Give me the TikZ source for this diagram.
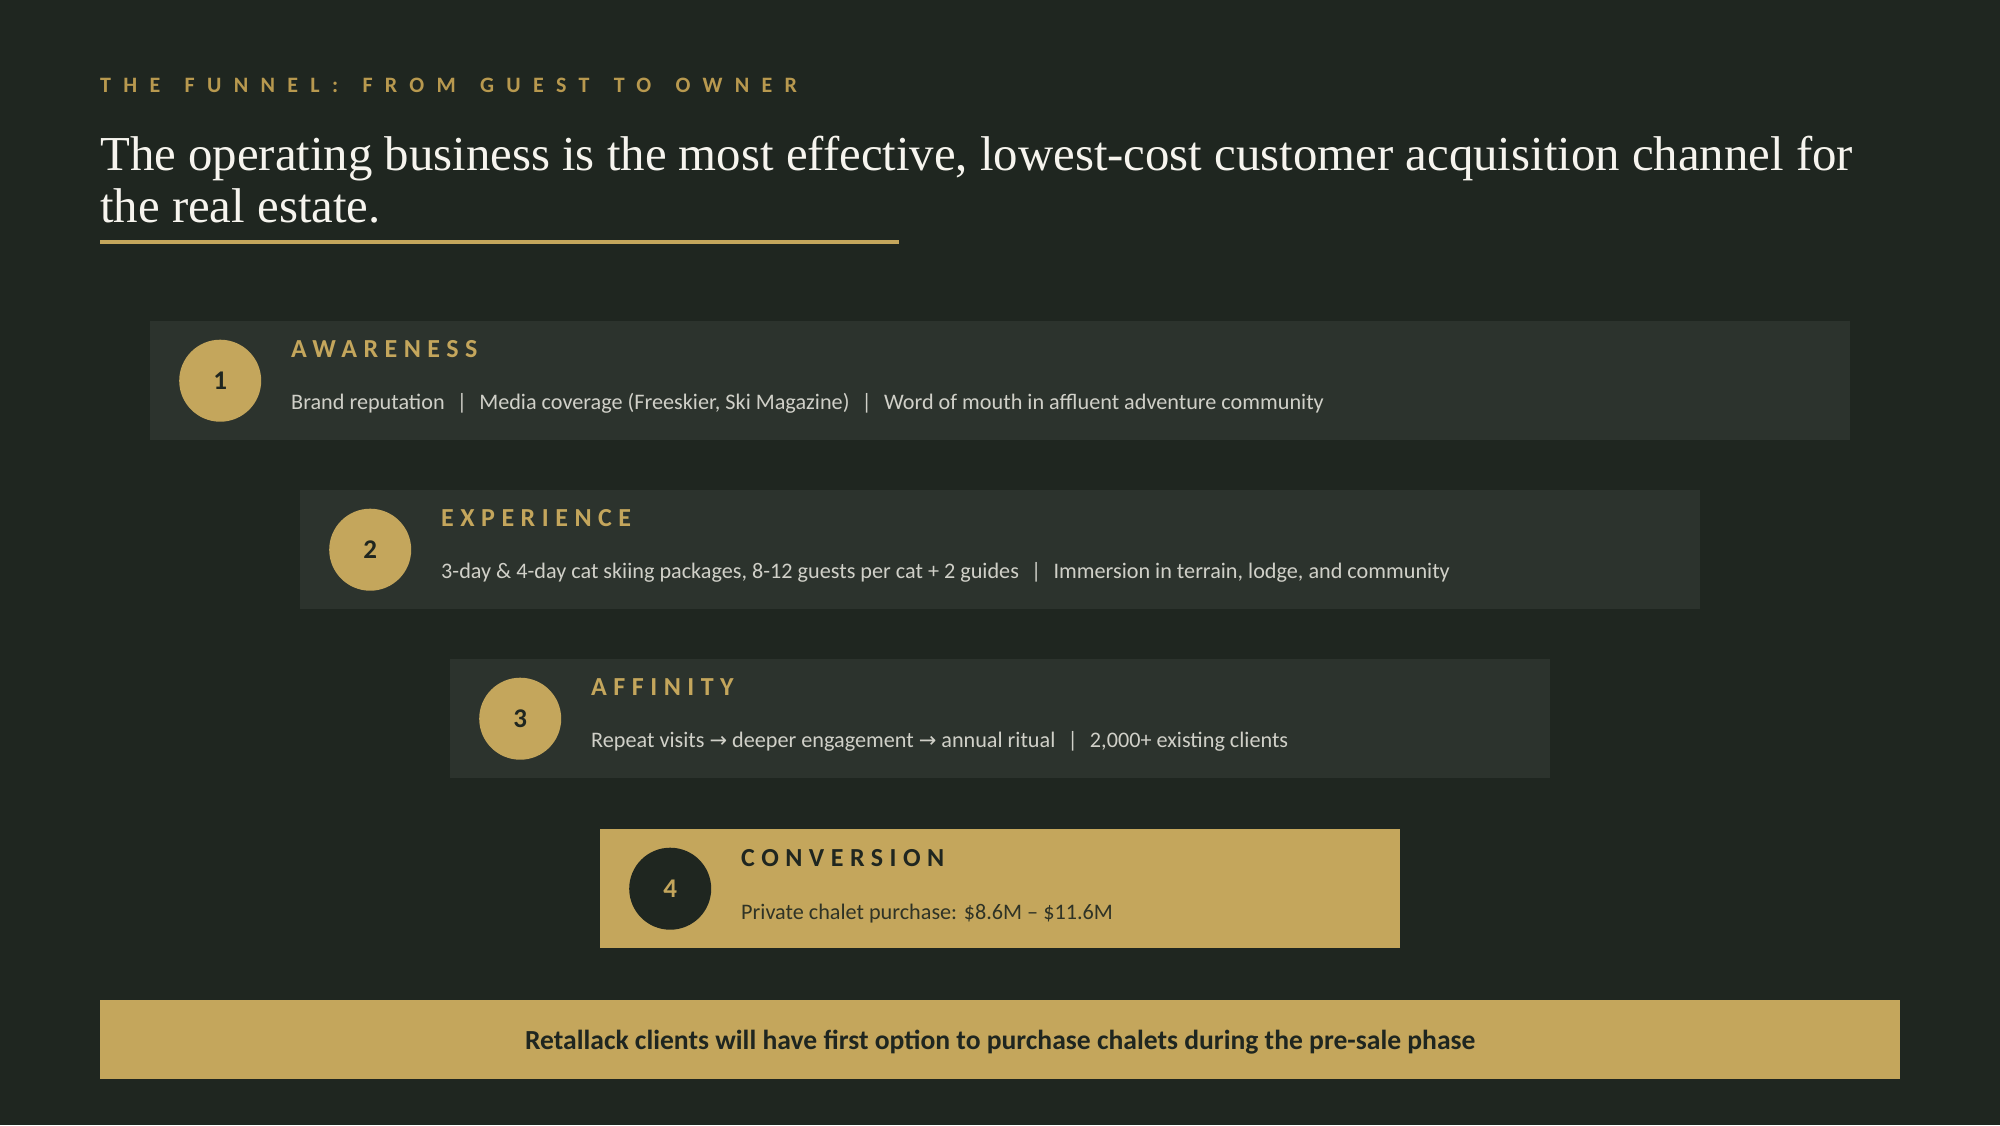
\documentclass[tikz,border=0pt]{standalone}
\usepackage{fontspec}
\setmainfont{Carlito}
\newfontfamily\titlefont{Liberation Serif}
\newfontfamily\arrowfont{DejaVu Sans}
\usetikzlibrary{positioning}

\definecolor{bgdark}{HTML}{1F2620}
\definecolor{boxgrey}{HTML}{2C332D}
\definecolor{gold}{HTML}{C4A65C}
\definecolor{kickergold}{HTML}{B8994F}
\definecolor{bodygrey}{HTML}{D0D0C8}
\definecolor{titlewhite}{HTML}{F6F4EE}

\newcommand{\barsep}{\hspace{0.55em}|\hspace{0.55em}}
\newcommand{\rarr}{{\arrowfont\fontsize{21}{21}\selectfont →}}
\newcommand{\gap}{\hspace{0.32em} }

\begin{document}
\begin{tikzpicture}
    [x=1pt, y=-1pt, every node/.style={inner sep=0pt}]
    \tikzset{stagebox/.style = {fill=boxgrey, anchor=north west, minimum height=119pt},
             badge/.style = {circle, fill=gold, text=bgdark, minimum size=82pt,
                             font=\fontsize{27}{27}\selectfont\bfseries},
             stagehead/.style = {anchor=base west, text=gold,
                             font=\fontsize{26}{26}\selectfont\bfseries\addfontfeatures{LetterSpace=25}},
             stagetext/.style = {anchor=base west, text=bodygrey,
                             font=\fontsize{22.2}{27}\selectfont}}
    \fill[bgdark] (0,0) rectangle (2000,1125);
    \useasboundingbox (0,0) rectangle (2000,1125);

    % header
    \node[anchor=base west, text=kickergold,
          font=\fontsize{22}{22}\selectfont\bfseries\addfontfeatures{LetterSpace=56}]
          (kicker) at (100,92) {THE\gap FUNNEL:\gap FROM\gap GUEST\gap TO\gap OWNER};
    \node[anchor=base west, text=titlewhite, font=\titlefont\fontsize{48.8}{52}\selectfont]
          (title1) at (100,170) {The operating business is the most effective, lowest-cost customer acquisition channel for};
    \node[anchor=base west, text=titlewhite, font=\titlefont\fontsize{48.8}{52}\selectfont]
          (title2) at (100,222) {the real estate.};
    \coordinate (rulestart) at (100,242);
    \coordinate (ruleend) at (899,242);
    \draw[gold, line width=4pt] (rulestart) -- (ruleend);

    % funnel stages
    \foreach \i/\name/\body [evaluate=\i as \lft using 150*\i,
                             evaluate=\i as \ytop using 152+169*\i,
                             evaluate=\i as \boxw using 2000-300*\i] in
        {1/AWARENESS/{Brand reputation\barsep Media coverage (Freeskier, Ski Magazine)\barsep Word of mouth in affluent adventure community},
         2/EXPERIENCE/{3-day \& 4-day cat skiing packages, 8-12 guests per cat + 2 guides\barsep Immersion in terrain, lodge, and community},
         3/AFFINITY/{Repeat visits \rarr{} deeper engagement \rarr{} annual ritual\barsep 2,000+ existing clients}}
    {
        \node[stagebox, minimum width=\boxw pt] (box\i) at (\lft,\ytop) {};
        \node[badge, right=29pt of box\i.west] (num\i) {\i};
        \node[stagehead] (head\i) at ([xshift=141pt, yshift=-36pt]box\i.north west) {\name};
        \node[stagetext] (text\i) at ([xshift=141pt, yshift=-88pt]box\i.north west) {\body};
    }

    \node[stagebox, fill=gold, minimum width=800pt] (box4) at (600,829) {};
    \node[badge, fill=bgdark, text=gold, right=29pt of box4.west] (num4) {4};
    \node[stagehead, text=bgdark] (head4) at ([xshift=141pt, yshift=-37pt]box4.north west) {CONVERSION};
    \node[stagetext, text=bgdark!90!gold] (text4) at ([xshift=141pt, yshift=-90pt]box4.north west)
          {Private chalet purchase: \$8.6M -- \$11.6M};

    % closing note
    \node[fill=gold, anchor=north west, minimum width=1800pt, minimum height=79pt] (notebar) at (100,1000) {};
    \node[anchor=base, text=bgdark, font=\fontsize{27.6}{27.6}\selectfont\bfseries]
          (note) at ([yshift=-10pt]notebar.center)
          {Retallack clients will have first option to purchase chalets during the pre-sale phase};
\end{tikzpicture}
\end{document}
